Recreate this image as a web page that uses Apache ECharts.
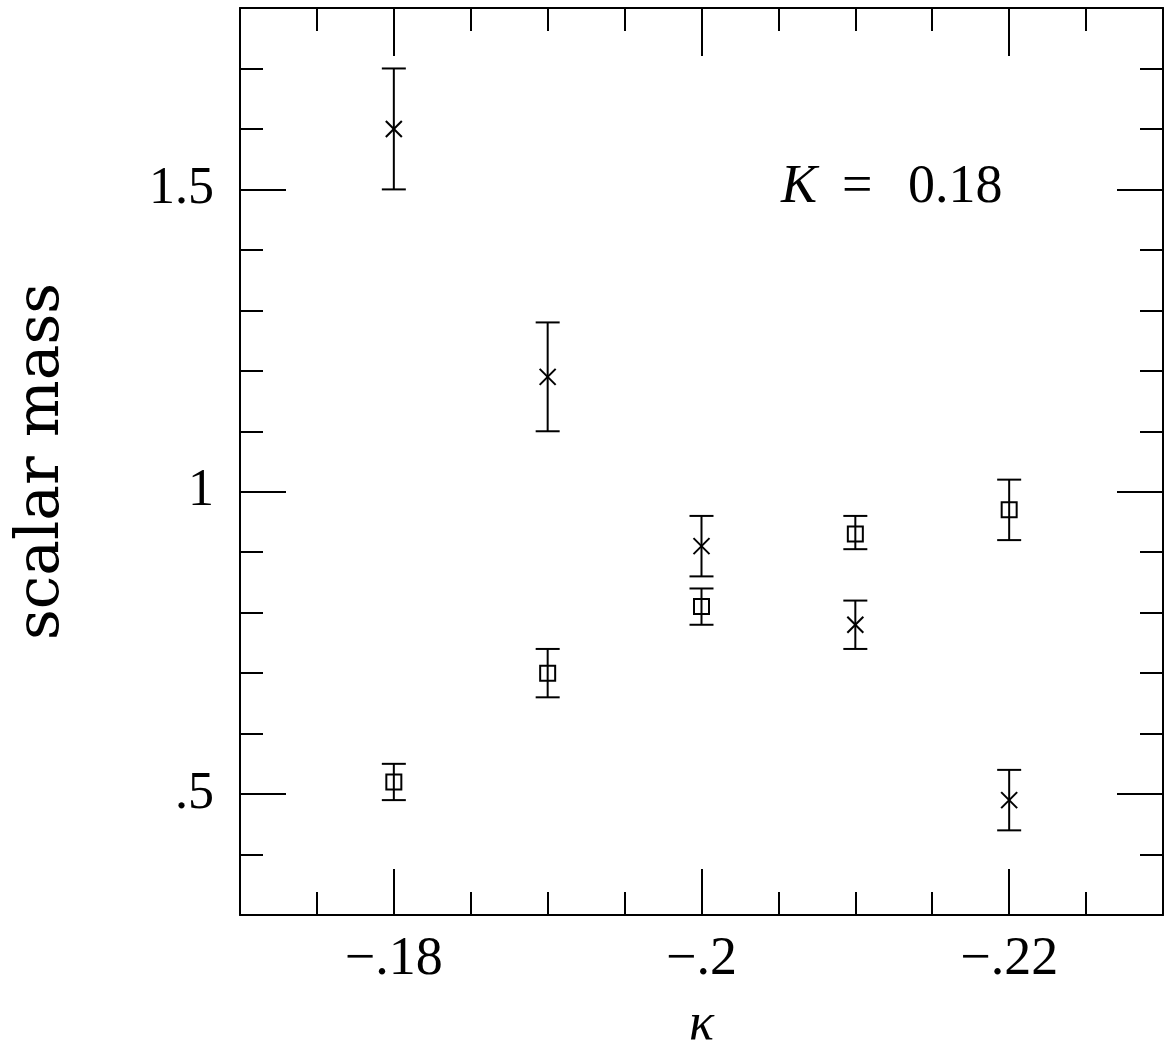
<!DOCTYPE html>
<html><head><meta charset="utf-8">
<script src="https://cdn.jsdelivr.net/npm/echarts@6/dist/echarts.min.js"></script>
<style>html,body{margin:0;padding:0;background:#fff}#c{width:1165px;height:1048px}</style>
</head><body><div id="c"></div>
<script>
// kappa values
const kappa = [-0.18, -0.19, -0.20, -0.21, -0.22];
// cross series (x markers)
const crossMass = [1.60, 1.19, 0.91, 0.78, 0.49];
const crossLow  = [1.50, 1.10, 0.86, 0.74, 0.44];
const crossHigh = [1.70, 1.28, 0.96, 0.82, 0.54];
// square series
const squareMass = [0.52, 0.70, 0.81, 0.93, 0.97];
const squareLow  = [0.49, 0.66, 0.78, 0.905, 0.92];
const squareHigh = [0.55, 0.74, 0.84, 0.96, 1.02];
// ticks
const xMajorTicks = [-0.18, -0.20, -0.22];
const xTickLabels = ['\u2212.18', '\u2212.2', '\u2212.22'];
const xMinorTicks = [-0.175, -0.185, -0.19, -0.195, -0.205, -0.21, -0.215, -0.225];
const yMajorTicks = [0.5, 1, 1.5];
const yTickLabels = ['.5', '1', '1.5'];
const yMinorTicks = [0.4, 0.6, 0.7, 0.8, 0.9, 1.1, 1.2, 1.3, 1.4, 1.6, 1.7];

const FONT = 'Liberation Serif';
function lookup(vals, labels) {
  return function (v) {
    for (let i = 0; i < vals.length; i++) if (Math.abs(vals[i] - v) < 1e-6) return labels[i];
    return '';
  };
}
const lineStyle = { color: '#000', width: 2 };

function xAx(pos, ticks, len, showLabel, showLine) {
  return {
    type: 'value', position: pos, min: -0.23, max: -0.17, inverse: true,
    gridIndex: 0,
    axisLine: { show: showLine, onZero: false, lineStyle },
    axisTick: { show: true, inside: true, length: len, customValues: ticks, lineStyle },
    axisLabel: showLabel ? {
      show: true, customValues: ticks, formatter: lookup(xMajorTicks, xTickLabels),
      fontFamily: FONT, fontSize: 54, color: '#000', margin: 18
    } : { show: false },
    splitLine: { show: false },
    name: showLabel ? '\u03ba' : '', nameLocation: 'middle', nameGap: 84,
    nameTextStyle: { fontFamily: FONT, fontStyle: 'italic', fontSize: 52, color: '#000' }
  };
}
function yAx(pos, ticks, len, showLabel, showLine) {
  return {
    type: 'value', position: pos, min: 0.3, max: 1.8,
    gridIndex: 0,
    axisLine: { show: showLine, onZero: false, lineStyle },
    axisTick: { show: true, inside: true, length: len, customValues: ticks, lineStyle },
    axisLabel: showLabel ? {
      show: true, customValues: ticks, formatter: lookup(yMajorTicks, yTickLabels),
      fontFamily: FONT, fontSize: 52, color: '#000', margin: 26
    } : { show: false },
    splitLine: { show: false },
    name: showLabel ? 'scalar mass' : '', nameLocation: 'middle', nameGap: 168,
    nameTextStyle: { fontFamily: 'DejaVu Serif', fontSize: 60, color: '#000' }
  };
}

function makeRender(kind) {
  return function (params, api) {
    const x = api.value(0), y = api.value(1), lo = api.value(2), hi = api.value(3);
    const p = api.coord([x, y]), pl = api.coord([x, lo]), ph = api.coord([x, hi]);
    const st = { stroke: '#000', lineWidth: 2, fill: null };
    const cap = 12;
    const ch = [
      { type: 'line', shape: { x1: pl[0], y1: pl[1], x2: ph[0], y2: ph[1] }, style: st },
      { type: 'line', shape: { x1: pl[0] - cap, y1: pl[1], x2: pl[0] + cap, y2: pl[1] }, style: st },
      { type: 'line', shape: { x1: ph[0] - cap, y1: ph[1], x2: ph[0] + cap, y2: ph[1] }, style: st }
    ];
    if (kind === 'cross') {
      const s = 8;
      ch.push({ type: 'line', shape: { x1: p[0] - s, y1: p[1] - s, x2: p[0] + s, y2: p[1] + s }, style: st });
      ch.push({ type: 'line', shape: { x1: p[0] - s, y1: p[1] + s, x2: p[0] + s, y2: p[1] - s }, style: st });
    } else {
      ch.push({ type: 'rect', shape: { x: p[0] - 7.5, y: p[1] - 7.5, width: 15, height: 15 }, style: { stroke: '#000', lineWidth: 2, fill: null } });
    }
    return { type: 'group', children: ch };
  };
}

const crossData = kappa.map((k, i) => [k, crossMass[i], crossLow[i], crossHigh[i]]);
const squareData = kappa.map((k, i) => [k, squareMass[i], squareLow[i], squareHigh[i]]);

const chart = echarts.init(document.getElementById('c'), null, { renderer: 'canvas' });
chart.setOption({
  animation: false,
  backgroundColor: '#fff',
  grid: { left: 240, right: 2, top: 8, bottom: 133, containLabel: false, outerBoundsMode: 'none' },
  xAxis: [
    xAx('bottom', xMajorTicks, 46, true, true),
    xAx('bottom', xMinorTicks, 23, false, false),
    xAx('top', xMajorTicks, 48, false, true),
    xAx('top', xMinorTicks, 23, false, false)
  ],
  yAxis: [
    yAx('left', yMajorTicks, 46, true, true),
    yAx('left', yMinorTicks, 23, false, false),
    yAx('right', yMajorTicks, 46, false, true),
    yAx('right', yMinorTicks, 23, false, false)
  ],
  graphic: [
    { type: 'text', left: 781, top: 161, style: { text: 'K', font: 'italic 54px "Liberation Serif"', fill: '#000' } },
    { type: 'text', left: 842, top: 161, style: { text: '=', font: '54px "Liberation Serif"', fill: '#000' } },
    { type: 'text', left: 908, top: 161, style: { text: '0.18', font: '54px "Liberation Serif"', fill: '#000' } }
  ],
  series: [
    { type: 'custom', name: 'cross', xAxisIndex: 0, yAxisIndex: 0, data: crossData,
      encode: { x: 0, y: [1, 2, 3] }, renderItem: makeRender('cross'), clip: false },
    { type: 'custom', name: 'square', xAxisIndex: 0, yAxisIndex: 0, data: squareData,
      encode: { x: 0, y: [1, 2, 3] }, renderItem: makeRender('square'), clip: false }
  ]
});
</script>
</body></html>
